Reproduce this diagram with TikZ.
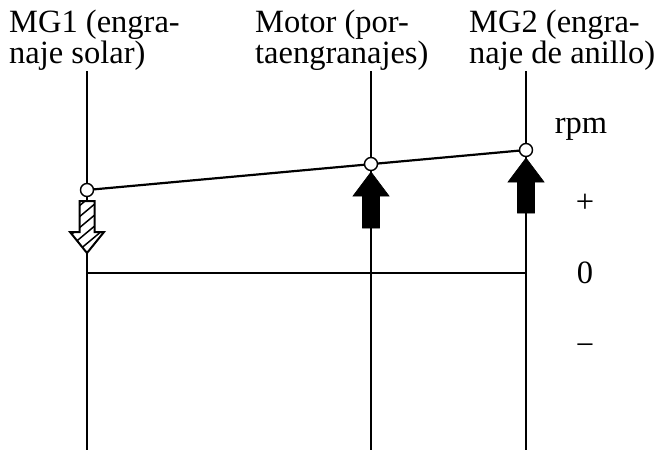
\documentclass[tikz,border=0pt]{standalone}
\usepackage{fontspec}
\setmainfont{Liberation Serif}
\begin{document}
\begin{tikzpicture}[x=1pt,y=-1pt,
  axis/.style={line width=1.4pt},
  link/.style={line width=2.2pt},
  dot/.style={circle,draw,fill=white,line width=1.4pt,minimum size=13pt,inner sep=0pt},
  lbl/.style={font=\fontsize{32.5}{27.5}\selectfont,inner sep=0pt,align=left,anchor=base west},
  sym/.style={font=\fontsize{32.5}{39}\selectfont,inner sep=0pt},
  solidarrow/.style={fill=black,draw=black,line width=0.6pt,line join=miter},
  hatcharrow/.style={draw=black,line width=2pt,line join=miter},
  hatch/.style={line width=1.5pt}
]
\useasboundingbox (0,0) rectangle (663,450);

% labels (anchor at baseline of the last line)
\node[lbl] (lsun) at (9,63) {MG1 (engra-\\naje solar)};
\node[lbl] (leng) at (255,63) {Motor (por-\\taengranajes)};
\node[lbl] (lring) at (469,63) {MG2 (engra-\\naje de anillo)};

% axes
\coordinate (t1) at (87,71);  \coordinate (b1) at (87,450);
\coordinate (t2) at (371,71); \coordinate (b2) at (371,450);
\coordinate (t3) at (526,71); \coordinate (b3) at (526,450);
\draw[axis] (t1) -- (b1);
\draw[axis] (t2) -- (b2);
\draw[axis] (t3) -- (b3);
\coordinate (z1) at (87,273); \coordinate (z3) at (526,273);
\draw[axis] (z1) -- (z3);

% speed line
\coordinate (p1) at (87,190);
\coordinate (p2) at (371,164);
\coordinate (p3) at (526,150);
\draw[link] (p1) -- (p3);

% arrows
\draw[solidarrow] (371,172) -- (389,196) -- (379.5,196) -- (379.5,228) -- (362.5,228) -- (362.5,196) -- (353,196) -- cycle;
\draw[solidarrow] (526,158) -- (544,182) -- (534.5,182) -- (534.5,213) -- (517.5,213) -- (517.5,182) -- (508,182) -- cycle;

\fill[white] (79.5,201) -- (94.5,201) -- (94.5,232) -- (104,232) -- (87,253) -- (70,232) -- (79.5,232) -- cycle;
\begin{scope}
  \clip (79.5,201) -- (94.5,201) -- (94.5,232) -- (104,232) -- (87,253) -- (70,232) -- (79.5,232) -- cycle;
  \foreach \k in {0,...,8} {
    \draw[hatch] (60,{200+11*\k}) -- (115,{154+11*\k});
  }
\end{scope}
\draw[hatcharrow] (79.5,201) -- (94.5,201) -- (94.5,232) -- (104,232) -- (87,253) -- (70,232) -- (79.5,232) -- cycle;

% dots
\node[dot] (d1) at (p1) {};
\node[dot] (d2) at (p2) {};
\node[dot] (d3) at (p3) {};

% scale labels
\node[sym,anchor=base] (rpm) at (581,133) {rpm};
\node[sym] (plus) at (585,203) {+};
\node[sym] (zero) at (585,273) {0};
\node[sym] (minus) at (585,350) {−};
\end{tikzpicture}
\end{document}
